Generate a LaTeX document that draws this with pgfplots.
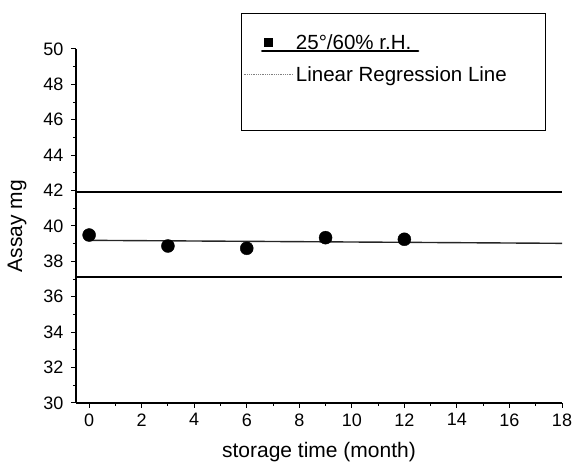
\documentclass[border=0pt]{standalone}
\usepackage{pgfplots}
\pgfplotsset{compat=1.18}
\usepackage{fontspec}
\setmainfont{Liberation Sans}

\pgfplotsset{
  legline/.style={legend image code/.code={\draw[##1] (0pt,0pt) -- (50pt,0pt);}},
  legmark/.style={legend image code/.code={\draw[mark repeat=2,mark phase=2,##1] plot coordinates {(0pt,0pt) (25pt,0pt) (50pt,0pt)};}},
}

\begin{document}
\begin{tikzpicture}
\useasboundingbox (-76pt,-59pt) rectangle (499pt,403pt);
\begin{axis}[
  at={(0pt,0pt)}, anchor=south west,
  scale only axis, width=486pt, height=354pt,
  xmin=-0.5, xmax=18, ymin=30, ymax=50,
  axis x line=bottom, axis y line=left,
  axis line style={line width=2pt, -},
  xtick={0,2,...,18}, ytick={30,32,...,50},
  minor x tick num=1, minor y tick num=1,
  tick align=outside,
  major tick length=5pt, minor tick length=3pt,
  every tick/.style={black, line width=1pt},
  tick label style={font=\fontsize{18}{21}\selectfont},
  xticklabel style={yshift=-2pt},
  yticklabel style={xshift=-4pt},
  /pgf/number format/assume math mode=true,
  xlabel={storage time (month)},
  ylabel={Assay mg},
  every axis x label/.style={at={(axis description cs:0.5,-0.1384)}, anchor=center},
  every axis y label/.style={at={(axis description cs:-0.121,0.5)}, rotate=90, anchor=center},
  label style={font=\fontsize{21}{25}\selectfont},
  clip=false,
  legend style={draw=none, fill=none, at={(0.3436,1.048)}, anchor=north west,
    inner sep=0pt, row sep=12pt, cells={anchor=west},
    font=\fontsize{20.5}{24}\selectfont},
  legend cell align=left,
]
% specification limits
\addplot[black, line width=2.6pt, forget plot] coordinates {(-0.5,41.92) (18,41.92)};
\addplot[black, line width=2.6pt, forget plot] coordinates {(-0.5,37.12) (18,37.12)};
% regression line
\addplot[black!85, line width=1.4pt, forget plot] coordinates {(0,39.19) (18,39.02)};
% measured values
\addplot[only marks, mark=*, mark size=6.5pt, black, forget plot] coordinates {
  (0,39.49) (3,38.87) (6,38.74) (9,39.34) (12,39.25)
};
\addlegendimage{legmark, only marks, mark=square*, mark size=4pt, black}
\addlegendentry{25°/60\% r.H.}
\addlegendimage{legline, gray, line width=0.8pt, densely dotted}
\addlegendentry{Linear Regression Line}
\draw[black, line width=0.8pt] (rel axis cs:0.3395,1.1017) rectangle (rel axis cs:0.965,0.771);
\draw[black, line width=2.5pt, line cap=round] (rel axis cs:0.383,0.994) -- (rel axis cs:0.704,0.994);
\end{axis}
\end{tikzpicture}
\end{document}
